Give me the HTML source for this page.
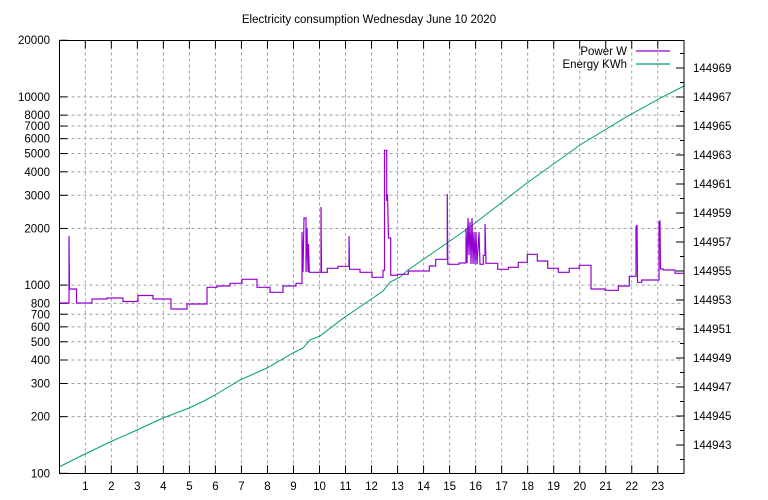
<!DOCTYPE html>
<html><head><meta charset="utf-8"><style>
html,body{margin:0;padding:0;background:#fff;}
svg{display:block;font-family:"Liberation Sans",sans-serif;font-size:11.5px;}
</style></head><body>
<svg id="s" width="768" height="500" viewBox="0 0 768 500" xmlns="http://www.w3.org/2000/svg">
<text x="369" y="23" text-anchor="middle">Electricity consumption Wednesday June 10 2020</text>
<g id="grid" stroke="#a0a0a0" stroke-width="1" stroke-dasharray="3,3" fill="none"></g>
<g id="ticks" stroke="#000" stroke-width="1"></g>
<g id="labels"></g>
<polyline id="energy" fill="none" stroke="#009e73" stroke-width="1"
points="59,467 85,454 110,442 137,430 163,418 189,408 204,401 215,395 240,380 267,368 293,353 303,348 310,340 320,336 341.7,319.3 370,300 383,291 390,282.3 400,277 408,270 447,243 470,227 527,183 580,145 626.7,116.7 660,98.3 684,86"/>
<polyline id="power" fill="none" stroke="#9400d3" stroke-width="1.2"/>
<rect x="59.5" y="40.5" width="624.5" height="433" fill="none" stroke="#000" stroke-width="1"/>
<text x="627" y="55" text-anchor="end">Power W</text>
<line x1="636" y1="51" x2="670" y2="51" stroke="#9400d3" stroke-width="1.2"/>
<text x="627" y="68" text-anchor="end">Energy KWh</text>
<line x1="636" y1="64" x2="670" y2="64" stroke="#009e73" stroke-width="1.2"/>
</svg>
<script>
var ns="http://www.w3.org/2000/svg";
function el(p,t,a,txt){var e=document.createElementNS(ns,t);for(var k in a)e.setAttribute(k,a[k]);if(txt!==undefined)e.textContent=txt;document.getElementById(p).appendChild(e);}
var L=59.5,R=684,T=40.5,B=473.3,X=26.02;
function yv(v){return B-188.2*Math.log10(v/100);}
var vals=[100,200,300,400,500,600,700,800,1000,2000,3000,4000,5000,6000,7000,8000,10000,20000];
vals.forEach(function(v){var y=yv(v);
 if(v!=100&&v!=20000)el("grid","line",{x1:L,y1:y,x2:R,y2:y});
 el("ticks","line",{x1:L,y1:y,x2:L+8,y2:y});
 el("labels","text",{x:50,y:y+4,"text-anchor":"end"},v);});
for(var h=1;h<24;h++){var x=59.3+X*h;
 el("grid","line",{x1:x,y1:T,x2:x,y2:B});
 el("ticks","line",{x1:x,y1:B,x2:x,y2:B-8});
 el("ticks","line",{x1:x,y1:T,x2:x,y2:T+8});
 el("labels","text",{x:x,y:490,"text-anchor":"middle"},h);}
for(var v=144942;v<=144970;v++){var y=445-14.5*(v-144943);
 var lab=(v%2==1);
 el("ticks","line",{x1:R,y1:y,x2:R-(lab?8:4),y2:y});
 if(lab)el("labels","text",{x:693,y:y+4},v);}
var p=[[59.5,303],[69,303],[69,236],[69.5,289],[76.5,289],[76.5,303],[92,303],[92,299],[107,299],[107,298],[123,298],[123,301.5],[138,301.5],[138,295.5],[153,295.5],[153,299],[171,299],[171,309],[187,309],[187,304],[207,304],[207,287.3],[217,287.3],[217,286],[230,286],[230,283.3],[242,283.3],[242,279.3],[257,279.3],[257,287.3],[270,287.3],[270,292.3],[283,292.3],[283,286],[296,286],[296,283.3],[302,283.3],[302,232],[303,272],[304,218],[306,218],[306,272],[307,228],[308,272],[308.5,244],[309.3,272.3],[321,272.3],[321,207],[321.5,272.3],[327.3,272.3],[327.3,268.3],[338,268.3],[338,266.3],[349,266.3],[349,236],[349.5,269.3],[360,269.3],[360,272.3],[372,272.3],[372,277.3],[383,277.3],[383,270.3],[384.5,270.3],[384.5,150.3],[386.7,150.3],[386.7,201],[387.5,194.3],[388.5,238],[390.7,238],[390.7,275.3],[397.3,275.3],[397.3,274.3],[408.3,274.3],[408.3,271],[429.3,271],[429.3,266],[435.7,266],[435.7,259.3],[447.3,259.3],[447.3,194],[447.8,264.3],[459,264.3],[459,263],[466,263],[466,228],[467,263],[468,218],[469,255],[470,222],[471,264],[472,218],[473,264],[474,232],[475,264.3],[476,232],[477,264.3],[479,232],[480,264.3],[483.3,264.3],[483.3,255.3],[485,255.3],[485,224],[486,263.3],[497.7,263.3],[497.7,269.3],[508.3,269.3],[508.3,267.3],[518.3,267.3],[518.3,262.3],[527.3,262.3],[527.3,254.3],[537.3,254.3],[537.3,261],[547.7,261],[547.7,268.3],[558.3,268.3],[558.3,272.3],[569.3,272.3],[569.3,268.3],[579.3,268.3],[579.3,265.3],[591,265.3],[591,289],[605,289],[605,290.3],[618.3,290.3],[618.3,286],[629.3,286],[629.3,276.3],[636,276.3],[636,227],[637,225],[637.5,282.3],[641.7,282.3],[641.7,280],[659,280],[659,222],[660,221],[660.5,269],[663.3,269],[663.3,270],[675,270],[675,273.3],[684,273.3]];
document.getElementById("power").setAttribute("points",p.map(function(a){return a[0]+","+a[1];}).join(" "));
</script>
</body></html>
